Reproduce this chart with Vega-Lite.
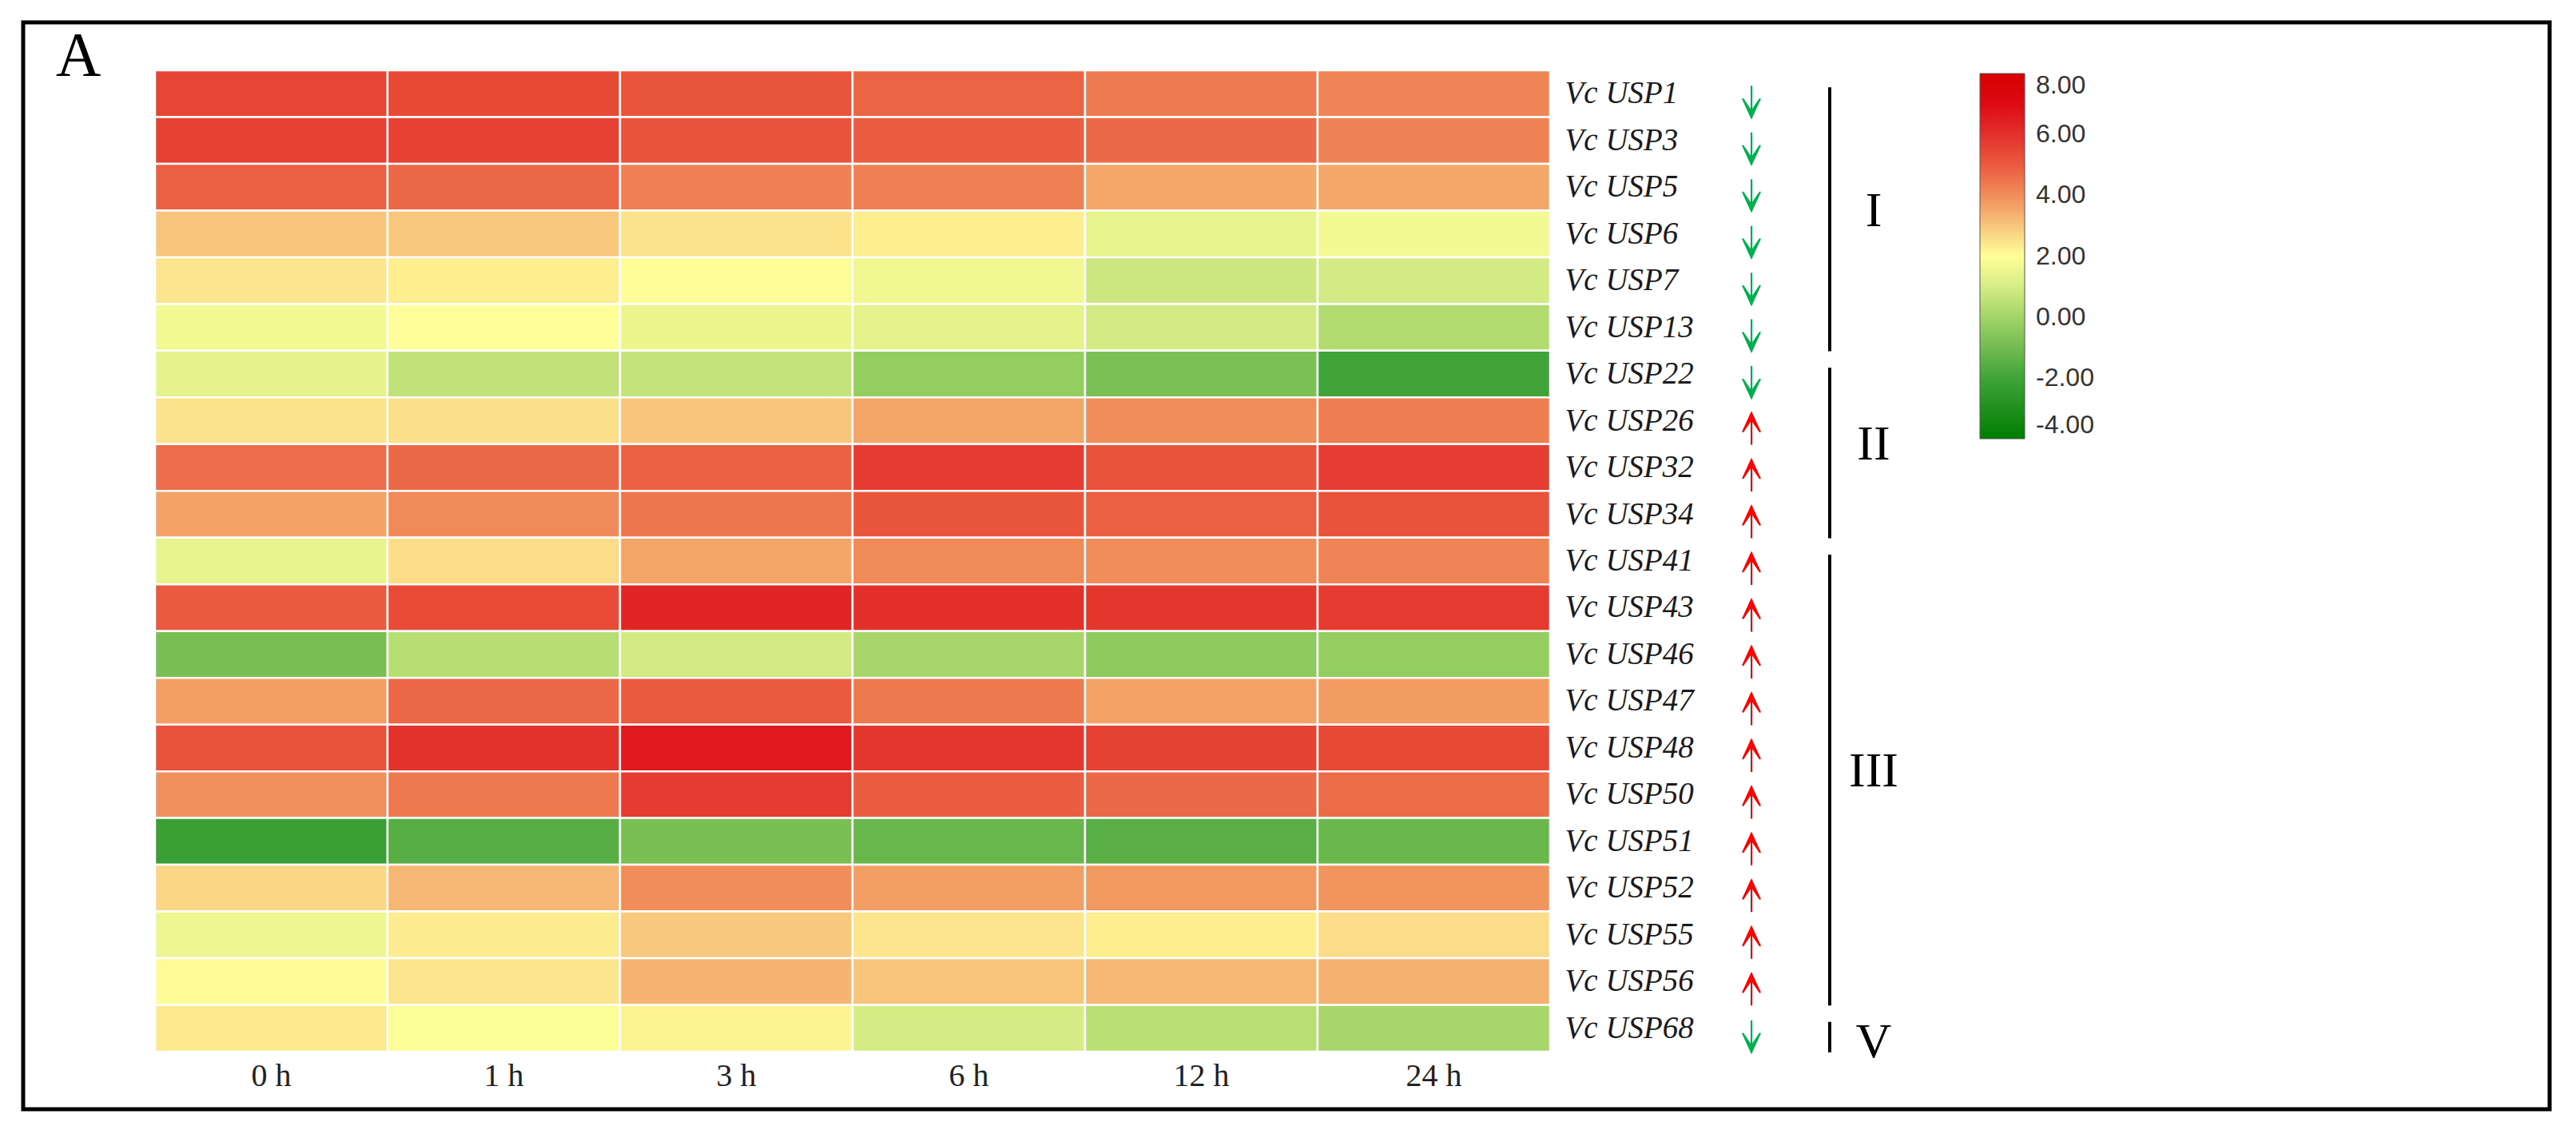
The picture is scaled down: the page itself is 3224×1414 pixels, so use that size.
{
  "$schema": "https://vega.github.io/schema/vega-lite/v6.json",
  "width": 3162,
  "height": 1360,
  "autosize": {"type": "none"},
  "padding": {"left": 29, "top": 28, "right": 33, "bottom": 26},
  "background": "white",
  "title": {"text": "A", "anchor": "start", "frame": "group", "offset": -82, "dx": 41, "font": "Liberation Serif", "fontSize": 78, "fontWeight": "normal", "color": "#000000"},
  "config": {"view": {"stroke": "#000000", "strokeWidth": 5}},
  "datasets": {
    "cells": [
      {"gene": "Vc USP1", "time": "0 h", "value": 5.5}, {"gene": "Vc USP1", "time": "1 h", "value": 5.4}, {"gene": "Vc USP1", "time": "3 h", "value": 5.15}, {"gene": "Vc USP1", "time": "6 h", "value": 4.8}, {"gene": "Vc USP1", "time": "12 h", "value": 4.35}, {"gene": "Vc USP1", "time": "24 h", "value": 4.15},
      {"gene": "Vc USP3", "time": "0 h", "value": 5.6}, {"gene": "Vc USP3", "time": "1 h", "value": 5.6}, {"gene": "Vc USP3", "time": "3 h", "value": 5.2}, {"gene": "Vc USP3", "time": "6 h", "value": 4.95}, {"gene": "Vc USP3", "time": "12 h", "value": 4.7}, {"gene": "Vc USP3", "time": "24 h", "value": 4.2},
      {"gene": "Vc USP5", "time": "0 h", "value": 4.9}, {"gene": "Vc USP5", "time": "1 h", "value": 4.75}, {"gene": "Vc USP5", "time": "3 h", "value": 4.25}, {"gene": "Vc USP5", "time": "6 h", "value": 4.25}, {"gene": "Vc USP5", "time": "12 h", "value": 3.5}, {"gene": "Vc USP5", "time": "24 h", "value": 3.5},
      {"gene": "Vc USP6", "time": "0 h", "value": 3.0}, {"gene": "Vc USP6", "time": "1 h", "value": 2.95}, {"gene": "Vc USP6", "time": "3 h", "value": 2.5}, {"gene": "Vc USP6", "time": "6 h", "value": 2.3}, {"gene": "Vc USP6", "time": "12 h", "value": 1.4}, {"gene": "Vc USP6", "time": "24 h", "value": 1.7},
      {"gene": "Vc USP7", "time": "0 h", "value": 2.45}, {"gene": "Vc USP7", "time": "1 h", "value": 2.3}, {"gene": "Vc USP7", "time": "3 h", "value": 1.95}, {"gene": "Vc USP7", "time": "6 h", "value": 1.65}, {"gene": "Vc USP7", "time": "12 h", "value": 0.8}, {"gene": "Vc USP7", "time": "24 h", "value": 0.95},
      {"gene": "Vc USP13", "time": "0 h", "value": 1.7}, {"gene": "Vc USP13", "time": "1 h", "value": 2.0}, {"gene": "Vc USP13", "time": "3 h", "value": 1.5}, {"gene": "Vc USP13", "time": "6 h", "value": 1.35}, {"gene": "Vc USP13", "time": "12 h", "value": 0.95}, {"gene": "Vc USP13", "time": "24 h", "value": 0.3},
      {"gene": "Vc USP22", "time": "0 h", "value": 1.35}, {"gene": "Vc USP22", "time": "1 h", "value": 0.6}, {"gene": "Vc USP22", "time": "3 h", "value": 0.65}, {"gene": "Vc USP22", "time": "6 h", "value": -0.3}, {"gene": "Vc USP22", "time": "12 h", "value": -0.8}, {"gene": "Vc USP22", "time": "24 h", "value": -2.0},
      {"gene": "Vc USP26", "time": "0 h", "value": 2.5}, {"gene": "Vc USP26", "time": "1 h", "value": 2.55}, {"gene": "Vc USP26", "time": "3 h", "value": 3.0}, {"gene": "Vc USP26", "time": "6 h", "value": 3.55}, {"gene": "Vc USP26", "time": "12 h", "value": 4.0}, {"gene": "Vc USP26", "time": "24 h", "value": 4.3},
      {"gene": "Vc USP32", "time": "0 h", "value": 4.6}, {"gene": "Vc USP32", "time": "1 h", "value": 4.7}, {"gene": "Vc USP32", "time": "3 h", "value": 4.85}, {"gene": "Vc USP32", "time": "6 h", "value": 5.75}, {"gene": "Vc USP32", "time": "12 h", "value": 5.2}, {"gene": "Vc USP32", "time": "24 h", "value": 5.7},
      {"gene": "Vc USP34", "time": "0 h", "value": 3.6}, {"gene": "Vc USP34", "time": "1 h", "value": 4.05}, {"gene": "Vc USP34", "time": "3 h", "value": 4.45}, {"gene": "Vc USP34", "time": "6 h", "value": 5.1}, {"gene": "Vc USP34", "time": "12 h", "value": 4.9}, {"gene": "Vc USP34", "time": "24 h", "value": 5.2},
      {"gene": "Vc USP41", "time": "0 h", "value": 1.45}, {"gene": "Vc USP41", "time": "1 h", "value": 2.6}, {"gene": "Vc USP41", "time": "3 h", "value": 3.55}, {"gene": "Vc USP41", "time": "6 h", "value": 4.05}, {"gene": "Vc USP41", "time": "12 h", "value": 4.0}, {"gene": "Vc USP41", "time": "24 h", "value": 4.15},
      {"gene": "Vc USP43", "time": "0 h", "value": 5.0}, {"gene": "Vc USP43", "time": "1 h", "value": 5.35}, {"gene": "Vc USP43", "time": "3 h", "value": 6.3}, {"gene": "Vc USP43", "time": "6 h", "value": 6.0}, {"gene": "Vc USP43", "time": "12 h", "value": 5.8}, {"gene": "Vc USP43", "time": "24 h", "value": 5.75},
      {"gene": "Vc USP46", "time": "0 h", "value": -0.85}, {"gene": "Vc USP46", "time": "1 h", "value": 0.4}, {"gene": "Vc USP46", "time": "3 h", "value": 0.9}, {"gene": "Vc USP46", "time": "6 h", "value": 0.1}, {"gene": "Vc USP46", "time": "12 h", "value": -0.4}, {"gene": "Vc USP46", "time": "24 h", "value": -0.3},
      {"gene": "Vc USP47", "time": "0 h", "value": 3.7}, {"gene": "Vc USP47", "time": "1 h", "value": 4.75}, {"gene": "Vc USP47", "time": "3 h", "value": 5.0}, {"gene": "Vc USP47", "time": "6 h", "value": 4.4}, {"gene": "Vc USP47", "time": "12 h", "value": 3.6}, {"gene": "Vc USP47", "time": "24 h", "value": 3.75},
      {"gene": "Vc USP48", "time": "0 h", "value": 5.2}, {"gene": "Vc USP48", "time": "1 h", "value": 5.95}, {"gene": "Vc USP48", "time": "3 h", "value": 6.6}, {"gene": "Vc USP48", "time": "6 h", "value": 5.8}, {"gene": "Vc USP48", "time": "12 h", "value": 5.55}, {"gene": "Vc USP48", "time": "24 h", "value": 5.4},
      {"gene": "Vc USP50", "time": "0 h", "value": 3.95}, {"gene": "Vc USP50", "time": "1 h", "value": 4.4}, {"gene": "Vc USP50", "time": "3 h", "value": 5.75}, {"gene": "Vc USP50", "time": "6 h", "value": 4.95}, {"gene": "Vc USP50", "time": "12 h", "value": 4.7}, {"gene": "Vc USP50", "time": "24 h", "value": 4.65},
      {"gene": "Vc USP51", "time": "0 h", "value": -2.2}, {"gene": "Vc USP51", "time": "1 h", "value": -1.55}, {"gene": "Vc USP51", "time": "3 h", "value": -0.85}, {"gene": "Vc USP51", "time": "6 h", "value": -1.2}, {"gene": "Vc USP51", "time": "12 h", "value": -1.5}, {"gene": "Vc USP51", "time": "24 h", "value": -1.15},
      {"gene": "Vc USP52", "time": "0 h", "value": 2.7}, {"gene": "Vc USP52", "time": "1 h", "value": 3.25}, {"gene": "Vc USP52", "time": "3 h", "value": 4.0}, {"gene": "Vc USP52", "time": "6 h", "value": 3.7}, {"gene": "Vc USP52", "time": "12 h", "value": 3.8}, {"gene": "Vc USP52", "time": "24 h", "value": 3.85},
      {"gene": "Vc USP55", "time": "0 h", "value": 1.55}, {"gene": "Vc USP55", "time": "1 h", "value": 2.35}, {"gene": "Vc USP55", "time": "3 h", "value": 2.95}, {"gene": "Vc USP55", "time": "6 h", "value": 2.45}, {"gene": "Vc USP55", "time": "12 h", "value": 2.3}, {"gene": "Vc USP55", "time": "24 h", "value": 2.6},
      {"gene": "Vc USP56", "time": "0 h", "value": 2.05}, {"gene": "Vc USP56", "time": "1 h", "value": 2.45}, {"gene": "Vc USP56", "time": "3 h", "value": 3.3}, {"gene": "Vc USP56", "time": "6 h", "value": 3.0}, {"gene": "Vc USP56", "time": "12 h", "value": 3.25}, {"gene": "Vc USP56", "time": "24 h", "value": 3.35},
      {"gene": "Vc USP68", "time": "0 h", "value": 2.4}, {"gene": "Vc USP68", "time": "1 h", "value": 1.9}, {"gene": "Vc USP68", "time": "3 h", "value": 2.2}, {"gene": "Vc USP68", "time": "6 h", "value": 1.0}, {"gene": "Vc USP68", "time": "12 h", "value": 0.45}, {"gene": "Vc USP68", "time": "24 h", "value": 0.1}
    ],
    "arrows": [
      {"gene": "Vc USP1", "dir": "down"}, {"gene": "Vc USP3", "dir": "down"}, {"gene": "Vc USP5", "dir": "down"}, {"gene": "Vc USP6", "dir": "down"}, {"gene": "Vc USP7", "dir": "down"}, {"gene": "Vc USP13", "dir": "down"}, {"gene": "Vc USP22", "dir": "down"},
      {"gene": "Vc USP26", "dir": "up"}, {"gene": "Vc USP32", "dir": "up"}, {"gene": "Vc USP34", "dir": "up"}, {"gene": "Vc USP41", "dir": "up"}, {"gene": "Vc USP43", "dir": "up"}, {"gene": "Vc USP46", "dir": "up"}, {"gene": "Vc USP47", "dir": "up"},
      {"gene": "Vc USP48", "dir": "up"}, {"gene": "Vc USP50", "dir": "up"}, {"gene": "Vc USP51", "dir": "up"}, {"gene": "Vc USP52", "dir": "up"}, {"gene": "Vc USP55", "dir": "up"}, {"gene": "Vc USP56", "dir": "up"}, {"gene": "Vc USP68", "dir": "down"}
    ],
    "groups": [
      {"group": "I", "start": "Vc USP1", "end": "Vc USP13", "anchor": "Vc USP6"},
      {"group": "II", "start": "Vc USP22", "end": "Vc USP34", "anchor": "Vc USP32"},
      {"group": "III", "start": "Vc USP41", "end": "Vc USP56", "anchor": "Vc USP50"},
      {"group": "V", "start": "Vc USP68", "end": "Vc USP68", "anchor": "Vc USP68"}
    ]
  },
  "layer": [
    {
      "data": {"name": "cells"},
      "mark": {"type": "rect", "stroke": "#ffffff", "strokeWidth": 2.5},
      "encoding": {
        "x": {
          "field": "time", "type": "ordinal",
          "scale": {"type": "band", "domain": ["0 h", "1 h", "3 h", "6 h", "12 h", "24 h"], "range": [165, 1911], "paddingInner": 0, "paddingOuter": 0},
          "axis": {"orient": "bottom", "offset": -72, "title": null, "domain": false, "ticks": false, "tickSize": 0, "grid": false, "labelAngle": 0, "labelPadding": 30, "labelBaseline": "middle", "labelFont": "Liberation Serif", "labelFontSize": 40, "labelColor": "#222222"}
        },
        "y": {
          "field": "gene", "type": "nominal",
          "scale": {"domain": ["Vc USP1","Vc USP3","Vc USP5","Vc USP6","Vc USP7","Vc USP13","Vc USP22","Vc USP26","Vc USP32","Vc USP34","Vc USP41","Vc USP43","Vc USP46","Vc USP47","Vc USP48","Vc USP50","Vc USP51","Vc USP52","Vc USP55","Vc USP56","Vc USP68"], "range": [60, 1288], "paddingInner": 0, "paddingOuter": 0},
          "axis": {"orient": "right", "offset": -1233, "title": null, "domain": false, "ticks": false, "tickSize": 0, "grid": false, "labelPadding": 0, "labelAlign": "left", "labelBaseline": "middle", "labelFont": "Liberation Serif", "labelFontStyle": "italic", "labelFontSize": 39, "labelColor": "#1a1a1a"}
        },
        "color": {
          "field": "value", "type": "quantitative",
          "scale": {"domain": [-4, -2, 0, 1, 2, 3, 4, 5, 6, 7, 8], "range": ["#007d00", "#40a33a", "#a3d467", "#d6ec85", "#ffff99", "#f8c57c", "#f08d5a", "#ea5a3f", "#e3302b", "#dc0a14", "#d80000"], "interpolate": "rgb"},
          "legend": {"orient": "none", "legendX": 2449, "legendY": 64, "direction": "vertical", "gradientLength": 457, "gradientThickness": 56, "title": null, "values": [-4, -2, 0, 2, 4, 6, 8], "labelExpr": "replace(format(datum.value, '.2f'), '\u2212', '-')", "labelOverlap": false, "labelFont": "Liberation Sans", "labelFontSize": 32, "labelColor": "#333333", "labelOffset": 14, "gradientStrokeColor": "#555555", "gradientStrokeWidth": 1}
        }
      }
    },
    {
      "layer": [
        {
          "data": {"name": "arrows"},
          "mark": {"type": "point", "filled": true, "size": 1600, "strokeWidth": 2, "yOffset": 10, "opacity": 1},
          "encoding": {
            "x": {"datum": "arrow", "type": "nominal", "scale": {"type": "point", "domain": ["arrow", "bracket"], "range": [2163, 2261], "padding": 0}, "axis": null},
            "y": {"field": "gene", "type": "nominal", "scale": {"domain": ["Vc USP1","Vc USP3","Vc USP5","Vc USP6","Vc USP7","Vc USP13","Vc USP22","Vc USP26","Vc USP32","Vc USP34","Vc USP41","Vc USP43","Vc USP46","Vc USP47","Vc USP48","Vc USP50","Vc USP51","Vc USP52","Vc USP55","Vc USP56","Vc USP68"]}},
            "shape": {"condition": {"test": "datum.dir === 'up'", "value": "M0,1L0,-0.7M-0.55,0.2L0,-1L0.55,0.2L0,-0.6Z"}, "value": "M0,-1L0,0.7M-0.55,-0.2L0,1L0.55,-0.2L0,0.6Z"},
            "fill": {"condition": {"test": "datum.dir === 'up'", "value": "#ff0000"}, "value": "#00b050"},
            "stroke": {"condition": {"test": "datum.dir === 'up'", "value": "#ff0000"}, "value": "#00b050"}
          }
        },
        {
          "data": {"name": "groups"},
          "mark": {"type": "rule", "strokeWidth": 4, "color": "#000000", "yOffset": -8, "y2Offset": 30},
          "encoding": {
            "x": {"datum": "bracket", "type": "nominal"},
            "y": {"field": "start", "type": "nominal", "scale": {"domain": ["Vc USP1","Vc USP3","Vc USP5","Vc USP6","Vc USP7","Vc USP13","Vc USP22","Vc USP26","Vc USP32","Vc USP34","Vc USP41","Vc USP43","Vc USP46","Vc USP47","Vc USP48","Vc USP50","Vc USP51","Vc USP52","Vc USP55","Vc USP56","Vc USP68"]}},
            "y2": {"field": "end"}
          }
        },
        {
          "data": {"name": "groups"},
          "transform": [{"filter": "datum.group !== 'V'"}],
          "mark": {"type": "text", "font": "Liberation Serif", "fontSize": 62, "color": "#000000", "dx": 55, "yOffset": -29, "align": "center", "baseline": "middle"},
          "encoding": {
            "x": {"datum": "bracket", "type": "nominal"},
            "y": {"field": "anchor", "type": "nominal", "scale": {"domain": ["Vc USP1","Vc USP3","Vc USP5","Vc USP6","Vc USP7","Vc USP13","Vc USP22","Vc USP26","Vc USP32","Vc USP34","Vc USP41","Vc USP43","Vc USP46","Vc USP47","Vc USP48","Vc USP50","Vc USP51","Vc USP52","Vc USP55","Vc USP56","Vc USP68"]}},
            "text": {"field": "group"}
          }
        },
        {
          "data": {"name": "groups"},
          "transform": [{"filter": "datum.group === 'V'"}],
          "mark": {"type": "text", "font": "Liberation Serif", "fontSize": 62, "color": "#000000", "dx": 55, "yOffset": 17, "align": "center", "baseline": "middle"},
          "encoding": {
            "x": {"datum": "bracket", "type": "nominal"},
            "y": {"field": "anchor", "type": "nominal", "scale": {"domain": ["Vc USP1","Vc USP3","Vc USP5","Vc USP6","Vc USP7","Vc USP13","Vc USP22","Vc USP26","Vc USP32","Vc USP34","Vc USP41","Vc USP43","Vc USP46","Vc USP47","Vc USP48","Vc USP50","Vc USP51","Vc USP52","Vc USP55","Vc USP56","Vc USP68"]}},
            "text": {"field": "group"}
          }
        }
      ]
    }
  ],
  "resolve": {"scale": {"x": "independent"}, "axis": {"x": "independent"}}
}
